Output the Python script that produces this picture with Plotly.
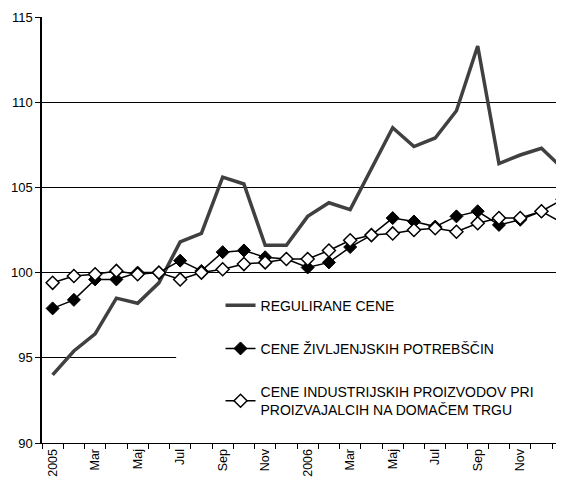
import plotly.graph_objects as go

# Monthly index values, Jan 2005 - Jan 2007
months = ["2005", "Feb", "Mar", "Apr", "Maj", "Jun", "Jul", "Avg", "Sep", "Okt", "Nov", "Dec",
          "2006", "Feb", "Mar", "Apr", "Maj", "Jun", "Jul", "Avg", "Sep", "Okt", "Nov", "Dec",
          "2007"]

regulirane = [94.0, 95.4, 96.4, 98.5, 98.2, 99.4, 101.8, 102.3, 105.6, 105.2, 101.6, 101.6,
              103.3, 104.1, 103.7, 106.1, 108.5, 107.4, 107.9, 109.5, 113.3, 106.4, 106.9, 107.3,
              106.1]
zivljenjske = [97.9, 98.4, 99.6, 99.6, 100.0, 100.0, 100.7, 100.1, 101.2, 101.3, 100.9, 100.8,
               100.3, 100.6, 101.5, 102.2, 103.2, 103.0, 102.7, 103.3, 103.6, 102.8, 103.1, 103.6,
               102.9]
industrijske = [99.4, 99.8, 99.9, 100.1, 99.9, 100.0, 99.6, 100.0, 100.2, 100.5, 100.6, 100.8,
                100.8, 101.3, 101.9, 102.2, 102.3, 102.5, 102.6, 102.4, 102.9, 103.2, 103.2, 103.6,
                104.3]

names = ["REGULIRANE CENE",
         "CENE ŽIVLJENJSKIH POTREBŠČIN",
         "CENE INDUSTRIJSKIH PROIZVODOV PRI<br>PROIZVAJALCIH NA DOMAČEM TRGU"]

y_ticks = [90, 95, 100, 105, 110, 115]

FONT = "Liberation Sans, Arial, sans-serif"

x = list(range(len(months)))

fig = go.Figure()

fig.add_trace(go.Scatter(
    x=x, y=regulirane, name=names[0], legendgroup="a",
    mode="lines", line=dict(color="#404040", width=3.5)
))

fig.add_trace(go.Scatter(
    x=x, y=zivljenjske, name=names[1], legendgroup="b",
    mode="lines+markers", line=dict(color="black", width=1.5),
    marker=dict(symbol="diamond", size=10, color="black", line=dict(color="black", width=1))
))

fig.add_trace(go.Scatter(
    x=x, y=industrijske, name=names[2], legendgroup="c",
    mode="lines+markers", line=dict(color="black", width=1.5),
    marker=dict(symbol="diamond", size=10, color="white", line=dict(color="black", width=1.5))
))

# white box behind the legend (hides part of the 95 gridline)
fig.add_shape(type="rect", xref="paper", yref="paper",
              x0=0.257, x1=0.99, y0=0.01, y1=0.36,
              fillcolor="white", line=dict(width=0), layer="above")

# the page body adds an 8px offset, margins compensate for it
fig.update_layout(
    width=564, height=486,
    margin=dict(l=34, r=8, t=9, b=51),
    paper_bgcolor="white", plot_bgcolor="white",
    font=dict(family=FONT, color="black", size=13),
    legend=dict(
        x=0.342, y=0.36, xanchor="left", yanchor="top",
        bgcolor="rgba(0,0,0,0)", font=dict(size=14, family=FONT),
        tracegroupgap=22, itemclick=False
    ),
    showlegend=True
)

fig.update_xaxes(
    range=[-0.5, 24.06],
    tickvals=x[::2], ticktext=months[::2], tickangle=-90,
    ticks="", showgrid=False, zeroline=False,
    showline=True, linecolor="black", linewidth=1,
    tickfont=dict(size=12.5),
    minor=dict(tick0=-0.5, dtick=1, ticks="outside", ticklen=5, tickcolor="black", showgrid=False),
    automargin=False
)

fig.update_yaxes(
    range=[90, 115], tickvals=y_ticks,
    ticks="outside", ticklen=5, tickcolor="black",
    showgrid=True, gridcolor="black", gridwidth=1, zeroline=False,
    showline=True, linecolor="black", linewidth=1.5,
    tickfont=dict(size=13),
    automargin=False
)

fig.write_html("out.html")
